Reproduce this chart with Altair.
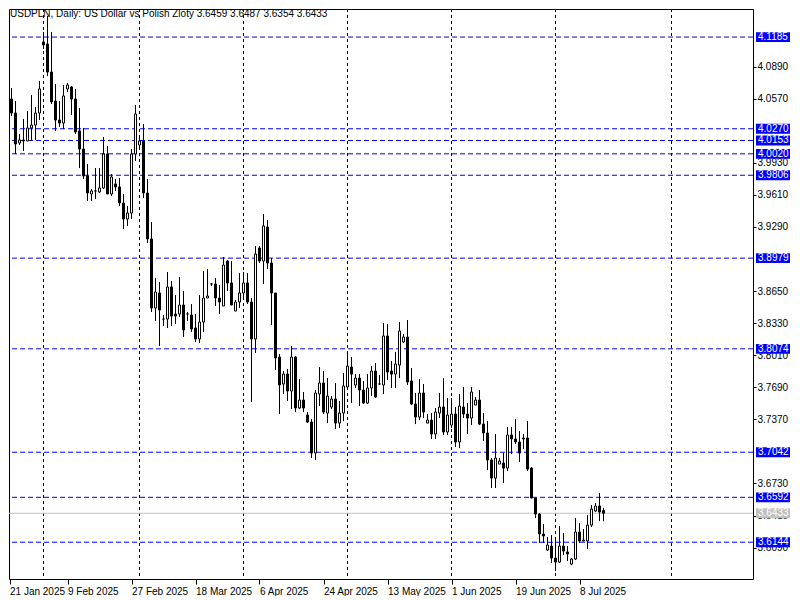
import altair as alt
import pandas as pd

# ---------------- data ----------------
symbol = "USDPLN"
period = "Daily"
description = "US Dollar vs Polish Zloty"

opens = [4.0806, 4.0737, 4.0567, 4.0427, 4.0128, 4.0158, 4.0148, 4.0278, 4.0307, 4.0427,
         4.1136, 4.1116, 4.0836, 4.0547, 4.0357, 4.0327, 4.0667, 4.0687, 4.0567, 4.0248,
         4.0068, 3.9799, 3.9619, 3.9649, 3.9639, 3.9679, 4.0018, 3.9619, 3.9719, 3.9689,
         3.9529, 3.9369, 3.9429, 4.0018, 4.0108, 4.0148, 3.9629, 3.9170, 3.8481, 3.8631,
         3.8371, 3.8371, 3.8691, 3.8421, 3.8421, 3.8511, 3.8421, 3.8411, 3.8282, 3.8172,
         3.8341, 3.8581, 3.8721, 3.8721, 3.8581, 3.8501, 3.8950, 3.8731, 3.8451, 3.8541,
         3.8631, 3.8731, 3.8541, 3.8172, 3.9080, 3.8950, 3.9290, 3.8930, 3.8631, 3.7992,
         3.7723, 3.7822, 3.7653, 3.7992, 3.7483, 3.7563, 3.7413, 3.7343, 3.7034, 3.7623,
         3.7733, 3.7433, 3.7493, 3.7573, 3.7333, 3.7433, 3.7693, 3.7892, 3.7713, 3.7782,
         3.7663, 3.7533, 3.7683, 3.7852, 3.7723, 3.7713, 3.8202, 3.7852, 3.7822, 3.7912,
         3.8142, 3.8192, 3.7753, 3.7523, 3.7393, 3.7633, 3.7333, 3.7363, 3.7224, 3.7433,
         3.7493, 3.7244, 3.7313, 3.7423, 3.7144, 3.7493, 3.7423, 3.7383, 3.7513, 3.7563,
         3.7323, 3.7234, 3.6964, 3.6784, 3.6924, 3.6934, 3.6884, 3.7214, 3.7174, 3.7144,
         3.7184, 3.7184, 3.6884, 3.6585, 3.6425, 3.6226, 3.6066, 3.6106, 3.5986, 3.5946,
         3.6106, 3.6046, 3.5926, 3.5976, 3.6246, 3.6156, 3.6156, 3.6315, 3.6455, 3.6505,
         3.6459]
highs = [4.0886, 4.0886, 4.0677, 4.0547, 4.0218, 4.0367, 4.0447, 4.0607, 4.0487, 4.0747,
         4.1236, 4.1395, 4.1236, 4.0717, 4.0547, 4.0707, 4.0727, 4.0697, 4.0667, 4.0477,
         4.0278, 3.9918, 3.9669, 3.9878, 3.9878, 4.0188, 4.0098, 3.9818, 3.9769, 3.9779,
         3.9619, 3.9499, 4.0068, 4.0507, 4.0208, 4.0317, 3.9769, 3.9339, 3.8780, 3.8741,
         3.8411, 3.8840, 3.8751, 3.8611, 3.8790, 3.8651, 3.8441, 3.8521, 3.8421, 3.8611,
         3.8850, 3.8870, 3.8731, 3.8780, 3.8711, 3.8990, 3.8960, 3.8950, 3.8561, 3.8830,
         3.8840, 3.8830, 3.8581, 3.9100, 3.9100, 3.9419, 3.9359, 3.8980, 3.8631, 3.8022,
         3.7852, 3.7872, 3.8102, 3.8002, 3.7772, 3.7643, 3.7443, 3.7373, 3.7663, 3.7892,
         3.7852, 3.7782, 3.7603, 3.7733, 3.7553, 3.7832, 3.8052, 3.7992, 3.7822, 3.7822,
         3.7753, 3.7822, 3.7902, 3.7932, 3.7812, 3.8331, 3.8321, 3.7952, 3.8042, 3.8341,
         3.8222, 3.8361, 3.7882, 3.7633, 3.7772, 3.7723, 3.7423, 3.7433, 3.7483, 3.7633,
         3.7782, 3.7583, 3.7583, 3.7493, 3.7623, 3.7693, 3.7533, 3.7693, 3.7593, 3.7663,
         3.7433, 3.7353, 3.6984, 3.7224, 3.6984, 3.7034, 3.7294, 3.7294, 3.7373, 3.7254,
         3.7224, 3.7353, 3.6894, 3.6585, 3.6435, 3.6325, 3.6196, 3.6216, 3.6196, 3.6305,
         3.6236, 3.6106, 3.5986, 3.6385, 3.6335, 3.6276, 3.6415, 3.6515, 3.6535, 3.6635,
         3.6487]
lows = [4.0687, 4.0477, 4.0397, 4.0018, 4.0108, 4.0048, 4.0148, 4.0158, 4.0158, 4.0357,
        4.1066, 4.0796, 4.0517, 4.0248, 4.0288, 4.0268, 4.0637, 4.0407, 4.0218, 3.9878,
        3.9769, 3.9549, 3.9549, 3.9569, 3.9629, 3.9669, 3.9619, 3.9599, 3.9649, 3.9499,
        3.9270, 3.9300, 3.9369, 3.9948, 4.0068, 3.9579, 3.9130, 3.8441, 3.8351, 3.8102,
        3.8302, 3.8282, 3.8302, 3.8321, 3.8391, 3.8192, 3.8351, 3.8242, 3.8142, 3.8132,
        3.8242, 3.8581, 3.8701, 3.8501, 3.8421, 3.8501, 3.8651, 3.8511, 3.8451, 3.8481,
        3.8561, 3.8521, 3.7543, 3.8032, 3.8930, 3.8721, 3.8870, 3.8311, 3.7862, 3.7423,
        3.7623, 3.7553, 3.7473, 3.7443, 3.7473, 3.7443, 3.7333, 3.6984, 3.6964, 3.7503,
        3.7423, 3.7333, 3.7473, 3.7274, 3.7284, 3.7353, 3.7673, 3.7533, 3.7683, 3.7503,
        3.7523, 3.7523, 3.7603, 3.7583, 3.7713, 3.7623, 3.7762, 3.7683, 3.7683, 3.7782,
        3.8132, 3.7713, 3.7513, 3.7323, 3.7363, 3.7383, 3.7333, 3.7174, 3.7174, 3.7383,
        3.7214, 3.7214, 3.7284, 3.7094, 3.7084, 3.7383, 3.7224, 3.7313, 3.7513, 3.7313,
        3.7154, 3.6864, 3.6685, 3.6685, 3.6924, 3.6735, 3.6854, 3.7024, 3.7124, 3.6944,
        3.7074, 3.6854, 3.6585, 3.6385, 3.6136, 3.6136, 3.6056, 3.5936, 3.5856, 3.5936,
        3.6016, 3.5956, 3.5916, 3.5966, 3.6136, 3.6156, 3.6076, 3.6295, 3.6445, 3.6355,
        3.6354]
closes = [4.0727, 4.0567, 4.0427, 4.0118, 4.0158, 4.0148, 4.0278, 4.0307, 4.0427, 4.0667,
          4.1106, 4.0836, 4.0537, 4.0357, 4.0327, 4.0597, 4.0707, 4.0567, 4.0238, 4.0068,
          3.9799, 3.9629, 3.9649, 3.9649, 3.9679, 4.0018, 3.9619, 3.9789, 3.9689, 3.9529,
          3.9369, 3.9429, 4.0018, 4.0417, 4.0148, 3.9629, 3.9170, 3.8481, 3.8641, 3.8461,
          3.8371, 3.8691, 3.8401, 3.8401, 3.8511, 3.8262, 3.8421, 3.8272, 3.8172, 3.8341,
          3.8581, 3.8601, 3.8721, 3.8581, 3.8541, 3.8910, 3.8731, 3.8511, 3.8541, 3.8631,
          3.8731, 3.8541, 3.8172, 3.9020, 3.8950, 3.9300, 3.8930, 3.8631, 3.7982, 3.7713,
          3.7822, 3.7653, 3.7992, 3.7483, 3.7563, 3.7483, 3.7343, 3.7034, 3.7633, 3.7733,
          3.7443, 3.7603, 3.7573, 3.7333, 3.7433, 3.7703, 3.7902, 3.7822, 3.7782, 3.7663,
          3.7533, 3.7683, 3.7852, 3.7593, 3.7723, 3.8202, 3.7842, 3.7822, 3.7922, 3.8252,
          3.8192, 3.7743, 3.7523, 3.7393, 3.7633, 3.7443, 3.7363, 3.7224, 3.7443, 3.7493,
          3.7244, 3.7413, 3.7423, 3.7144, 3.7503, 3.7423, 3.7383, 3.7643, 3.7563, 3.7323,
          3.7234, 3.6964, 3.6784, 3.6984, 3.6954, 3.6884, 3.7214, 3.7174, 3.7144, 3.7034,
          3.7174, 3.6874, 3.6585, 3.6425, 3.6226, 3.6206, 3.6116, 3.5986, 3.5946, 3.6106,
          3.6056, 3.6026, 3.5976, 3.6246, 3.6156, 3.6166, 3.6315, 3.6475, 3.6505, 3.6445,
          3.6433]

date_labels = ["21 Jan 2025", "9 Feb 2025", "27 Feb 2025", "18 Mar 2025", "6 Apr 2025",
               "24 Apr 2025", "13 May 2025", "1 Jun 2025", "19 Jun 2025", "8 Jul 2025"]
date_ticks = [1.5, 16, 32, 48, 64, 80, 96, 112, 128, 144]
grid_bars = [10, 34, 60, 86, 112, 138, 167]
price_ticks = [4.0890, 4.0570, 3.9930, 3.9610, 3.9290, 3.8650,
               3.8330, 3.8010, 3.7690, 3.7370, 3.6730, 3.6410, 3.6090]
levels = [4.1185, 4.0270, 4.0153, 4.0020, 3.9806, 3.8979, 3.8074, 3.7042, 3.6592, 3.6144]
last_price = closes[-1]

# ---------------- layout / style ----------------
W, H = 744, 570
FONT = "Liberation Sans"
BLUE = "#0000ff"
GREY = "#c0c0c0"
x_scale = alt.Scale(domain=[1.375, 187.375], nice=False, zero=False, padding=0)
y_scale = alt.Scale(domain=[3.5777, 4.1465], nice=False, zero=False, padding=0)

label_arr = "[" + ",".join("'" + s + "'" for s in date_labels) + "]"
x_axis = alt.Axis(values=date_ticks, labelExpr=label_arr + "[round(datum.value/16)]",
                  grid=False, domain=False, tickSize=5, tickColor="black", tickWidth=1,
                  labelAlign="left", labelBaseline="top", labelPadding=2,
                  labelFont=FONT, labelFontSize=10, labelColor="black",
                  labelOverlap=False, labelFlush=False, title=None)
y_axis = alt.Axis(orient="right", values=price_ticks, format=".4f", grid=False, domain=False,
                  tickSize=3, tickColor="black", tickWidth=1, labelPadding=1,
                  labelFont=FONT, labelFontSize=10, labelColor="black",
                  labelOverlap=False, labelFlush=False, title=None)

df = pd.DataFrame({"i": list(range(len(opens))), "o": opens, "h": highs, "l": lows, "c": closes})
df["lo"] = df[["o", "c"]].min(axis=1)
df["hi"] = df[["o", "c"]].max(axis=1)

X = alt.X("i:Q", scale=x_scale, axis=x_axis)

grid = alt.Chart(pd.DataFrame({"i": grid_bars})).mark_rule(
    color="black", strokeDash=[3, 3], strokeWidth=1).encode(x=X)

lev_df = pd.DataFrame({"p": levels})
lev_lines = alt.Chart(lev_df).mark_rule(color=BLUE, strokeDash=[5, 3], strokeWidth=1).encode(
    y=alt.Y("p:Q", scale=y_scale, axis=y_axis))

cur_line = alt.Chart(pd.DataFrame({"p": [last_price]})).mark_rule(
    color=GREY, strokeWidth=1).encode(y=alt.Y("p:Q", scale=y_scale, axis=y_axis))

wicks = alt.Chart(df).mark_rule(color="black", strokeWidth=1, clip=True).encode(
    x=X, y=alt.Y("l:Q", scale=y_scale, axis=y_axis), y2="h:Q")

bodies = alt.Chart(df).mark_bar(size=2, stroke="black", strokeWidth=1, clip=True).encode(
    x=X, y=alt.Y("lo:Q", scale=y_scale, axis=y_axis), y2="hi:Q",
    fill=alt.condition("datum.c >= datum.o", alt.value("white"), alt.value("black")))

box_df = pd.DataFrame({"p": levels + [last_price],
                       "col": [BLUE] * len(levels) + [GREY]})
box_df["lbl"] = box_df["p"].map(lambda v: f"{v:.4f}")
box_df["b0"] = box_df["p"] - 0.0049
box_df["b1"] = box_df["p"] + 0.0049

boxes = alt.Chart(box_df).mark_rect(clip=False).encode(
    y=alt.Y("b0:Q", scale=y_scale, axis=y_axis), y2="b1:Q",
    x=alt.value(W + 3), x2=alt.value(W + 37),
    fill=alt.Color("col:N", scale=None))
box_txt = alt.Chart(box_df).mark_text(
    align="left", baseline="middle", color="white", font=FONT, fontSize=10, clip=False).encode(
    y=alt.Y("p:Q", scale=y_scale, axis=y_axis), x=alt.value(W + 5), text="lbl:N")

header = f"{symbol}, {period}:  {description}  " + " ".join(
    f"{v:.4f}" for v in (opens[-1], highs[-1], lows[-1], closes[-1]))
head = alt.Chart(pd.DataFrame({"t": [header]})).mark_text(
    align="left", baseline="middle", color="black", font=FONT, fontSize=10).encode(
    x=alt.value(1), y=alt.value(5), text="t:N")

chart = alt.layer(grid, lev_lines, cur_line, wicks, bodies, boxes, box_txt, head).properties(
    width=W, height=H, padding=0, background="white"
).configure_view(stroke="black", strokeWidth=1)

chart.save("out.html", embed_options={"renderer": "svg", "actions": False})
